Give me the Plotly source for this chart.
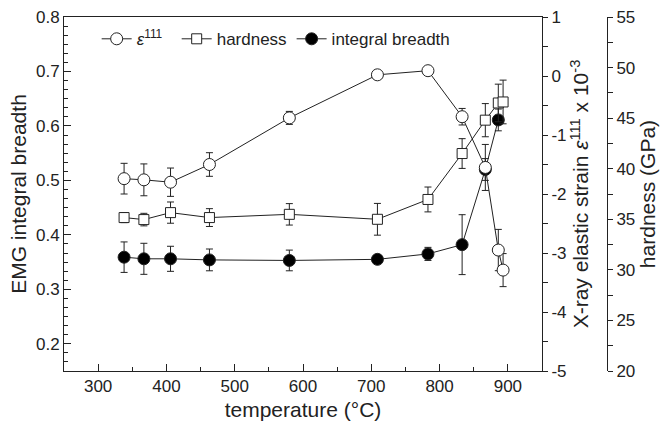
import plotly.graph_objects as go

# ---- data ----
temp_strain = [338, 367, 406, 463, 580, 709, 783, 833, 867, 886, 893]
strain = [-1.74, -1.76, -1.80, -1.50, -0.71, 0.02, 0.09, -0.69, -1.55, -2.95, -3.29]
strain_err = [0.26, 0.27, 0.24, 0.20, 0.11, 0.05, 0.05, 0.14, 0.39, 0.35, 0.28]

temp_hard = [338, 367, 406, 463, 580, 709, 783, 833, 867, 886, 893]
hardness = [35.17, 34.97, 35.66, 35.17, 35.49, 35.0, 36.96, 41.5, 44.8, 46.5, 46.6]
hardness_err = [0.5, 0.62, 1.05, 0.88, 1.06, 1.57, 1.23, 1.47, 1.64, 1.86, 2.16]

temp_ib = [338, 367, 406, 463, 580, 709, 783, 833, 867, 886]
breadth = [0.359, 0.356, 0.356, 0.354, 0.353, 0.355, 0.365, 0.382, 0.520, 0.611]
breadth_err = [0.028, 0.0285, 0.023, 0.02, 0.019, 0.005, 0.012, 0.055, 0.02, 0.02]

x_ticks = [300, 400, 500, 600, 700, 800, 900]
left_ticks = [0.2, 0.3, 0.4, 0.5, 0.6, 0.7, 0.8]
strain_ticks = [1, 0, -1, -2, -3, -4, -5]
strain_ticklabels = ["1", "0", "-1", "-2", "-3", "-4", "-5"]
hard_ticks = [20, 25, 30, 35, 40, 45, 50, 55]

FONT = "Liberation Sans, Arial, sans-serif"
INK = "#222222"

L, R, T, B = 64, 8, 16, 52
W, H = 666, 425
pw = W - L - R
dom_end = (542 - L) / pw
hard_pos = (607 - L) / pw

err_style = dict(type="data", thickness=1, width=3.5, color=INK)

fig = go.Figure()

fig.add_trace(go.Scatter(
    x=temp_strain, y=strain, yaxis="y2", mode="lines+markers",
    name="<i>ε</i><sup>111</sup>  ",
    line=dict(color=INK, width=1),
    marker=dict(symbol="circle", size=12, color="white", line=dict(color=INK, width=1)),
    error_y=dict(array=strain_err, **err_style),
))
fig.add_trace(go.Scatter(
    x=temp_hard, y=hardness, yaxis="y3", mode="lines+markers",
    name="hardness",
    line=dict(color=INK, width=1),
    marker=dict(symbol="square", size=10, color="white", line=dict(color=INK, width=1)),
    error_y=dict(array=hardness_err, **err_style),
))
fig.add_trace(go.Scatter(
    x=temp_ib, y=breadth, yaxis="y", mode="lines+markers",
    name="integral breadth",
    line=dict(color=INK, width=1),
    marker=dict(symbol="circle", size=12, color="black", line=dict(color=INK, width=1)),
    error_y=dict(array=breadth_err, **err_style),
))

axis_common = dict(showgrid=False, zeroline=False, showline=True, linecolor=INK,
                   linewidth=1, tickcolor=INK, tickfont=dict(family=FONT, size=17, color=INK))

fig.update_layout(
    width=W, height=H,
    margin=dict(l=L, r=R, t=T, b=B),
    paper_bgcolor="white", plot_bgcolor="white",
    font=dict(family=FONT, color=INK),
    showlegend=True,
    legend=dict(orientation="h", x=0.055, y=0.988, xanchor="left", yanchor="top",
                bgcolor="rgba(0,0,0,0)", font=dict(family=FONT, size=17, color=INK),
                itemwidth=30, tracegroupgap=0),
    xaxis=dict(domain=[0, dom_end], range=[250, 950], tickvals=x_ticks,
               ticks="inside", ticklen=7, mirror=True,
               minor=dict(dtick=50, tick0=250, ticks="inside", ticklen=4, tickcolor=INK),
               title=dict(text="temperature (°C)", font=dict(family=FONT, size=21, color=INK), standoff=6),
               **axis_common),
    yaxis=dict(range=[0.15, 0.8], tickvals=left_ticks, tickformat=".1f",
               ticks="inside", ticklen=7,
               minor=dict(dtick=0.1 / 6, tick0=0.15, ticks="inside", ticklen=4, tickcolor=INK),
               title=dict(text="EMG integral breadth", font=dict(family=FONT, size=21, color=INK), standoff=3),
               **axis_common),
    yaxis2=dict(range=[-5, 1], overlaying="y", side="right", anchor="x",
                tickvals=strain_ticks, ticktext=strain_ticklabels,
                ticks="outside", ticklen=5,
                minor=dict(dtick=0.5, ticks="outside", ticklen=5, tickcolor=INK),
                title=dict(text="X-ray elastic strain <i>ε</i><sup>111</sup> x 10<sup>-3</sup>",
                           font=dict(family=FONT, size=21, color=INK), standoff=6),
                **axis_common),
    yaxis3=dict(range=[20, 55], overlaying="y", side="right", anchor="free", position=hard_pos,
                tickvals=hard_ticks,
                ticks="outside", ticklen=5,
                minor=dict(dtick=2.5, ticks="outside", ticklen=5, tickcolor=INK),
                title=dict(text="hardness (GPa)", font=dict(family=FONT, size=21, color=INK), standoff=5),
                **axis_common),
)

fig.write_html("out.html")
